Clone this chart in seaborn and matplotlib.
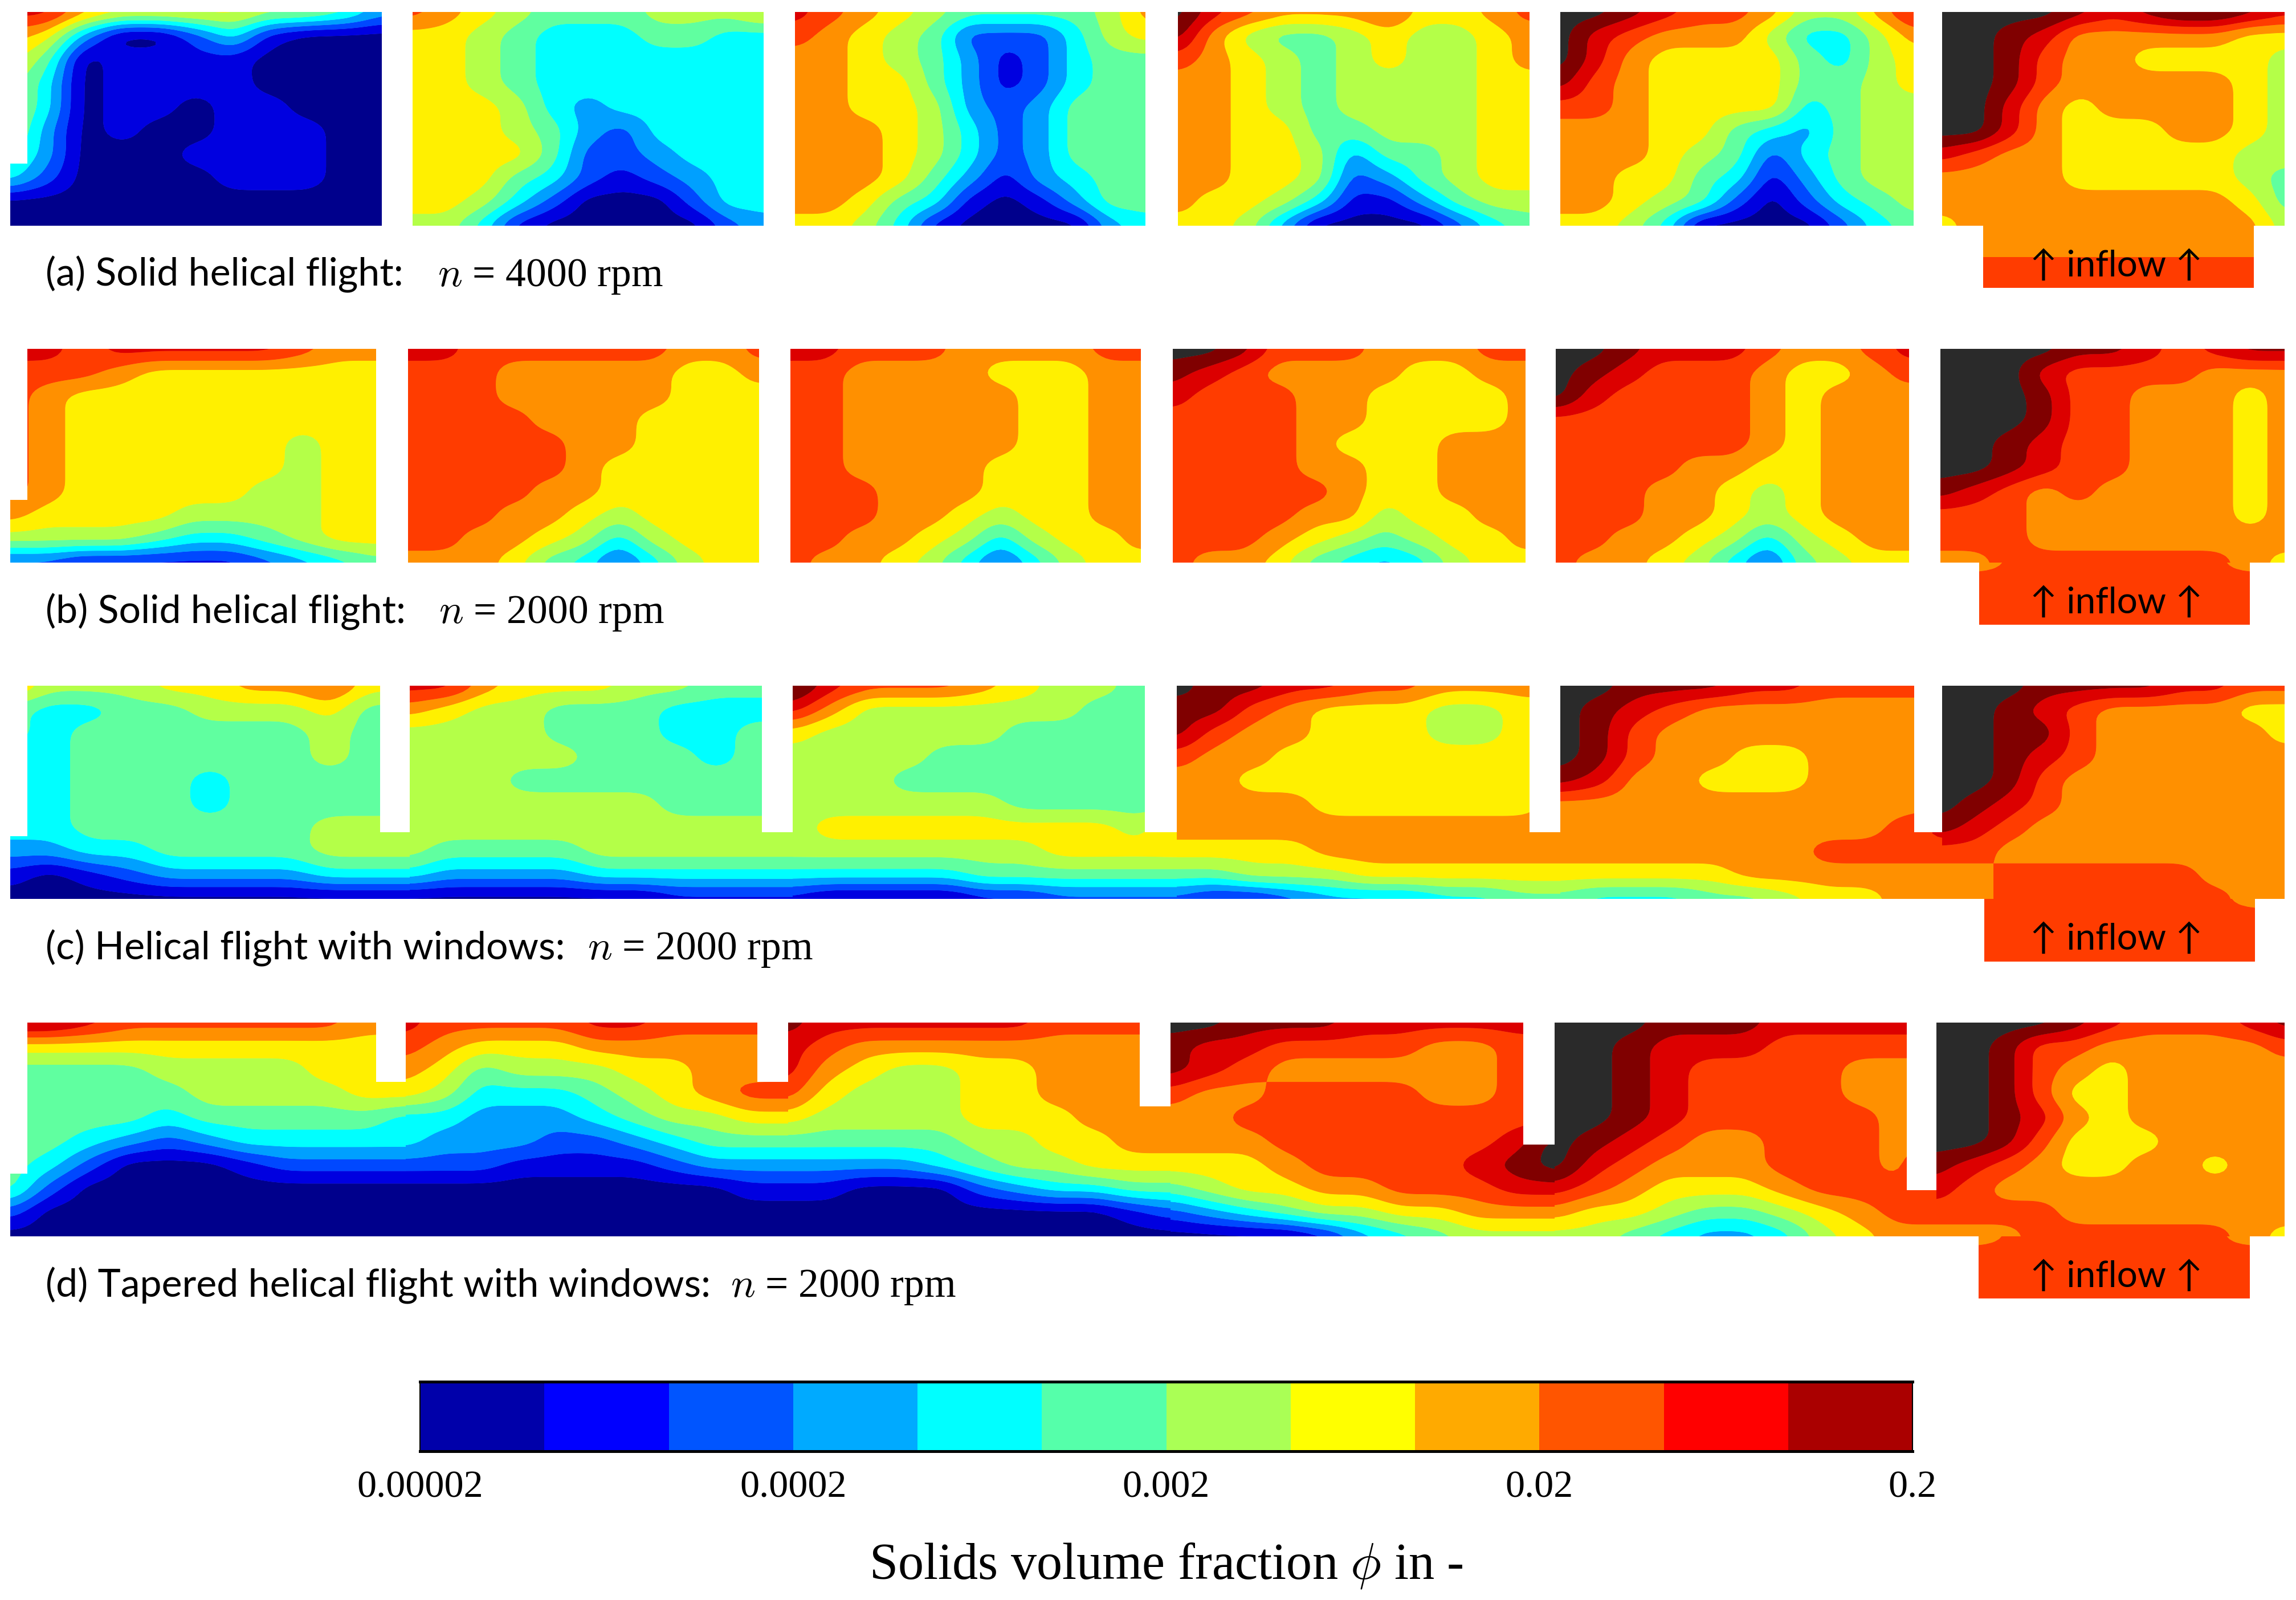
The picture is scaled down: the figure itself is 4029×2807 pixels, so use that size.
import numpy as np
import matplotlib
matplotlib.use("Agg")
import matplotlib.pyplot as plt
from matplotlib.colors import ListedColormap, BoundaryNorm
from matplotlib.patches import Rectangle
import seaborn as sns

sns.set_theme(style="white")
plt.rcParams['mathtext.fontset'] = 'cm'

# Class of log-spaced solids volume fraction at grid nodes (hex digit: 0..b bands, c = above 0.2)
A1 = ["a a 8 7 7 7 7 6 6 5 3","8 7 3 0 0 2 4 1 0 0 0","7 5 0 1 1 1 1 0 0 0 0","6 4 0 1 1 1 1 0 0 0 0","6 4 0 1 1 0 1 1 0 0 0",
      "6 3 0 1 0 0 1 1 1 0 0","5 3 0 0 0 1 1 1 1 0 0","4 2 0 0 0 0 1 1 1 0 0","0 0 0 0 0 0 0 0 0 0 0","0 0 0 0 0 0 0 0 0 0 0"]
A2 = ["9 8 7 6 5 5 5 6 6 6 7","7 7 6 5 4 4 4 5 5 4 4","7 7 6 5 4 4 4 4 4 4 4","7 7 6 5 4 4 4 4 4 4 4","7 7 7 6 4 3 4 4 4 4 4",
      "7 7 7 6 5 3 2 4 4 4 4","7 7 7 7 5 2 2 3 4 4 4","7 7 7 5 4 2 1 2 3 4 4","7 7 6 4 2 0 0 0 2 4 4","6 6 4 1 0 0 0 0 0 2 3"]
A3 = ["a 9 8 7 6 5 5 5 5 6 8","9 8 7 6 5 2 2 2 4 6 7","8 8 7 6 5 3 1 2 4 5 5","8 8 7 7 5 3 1 2 4 5 5","8 8 7 7 6 3 2 3 5 5 5",
      "8 8 8 7 6 4 2 3 5 5 5","8 8 8 7 6 4 2 3 5 5 5","8 8 8 7 5 3 1 3 4 5 5","8 8 7 5 4 1 0 1 3 5 5","7 7 6 4 1 0 0 0 0 3 4"]
A4 = ["c a 9 8 8 8 9 7 7 8 9","b 8 6 5 5 6 7 6 6 7 8","9 8 7 6 5 6 7 6 6 7 8","8 8 7 6 5 6 6 6 6 7 7","8 8 7 6 5 6 6 6 6 7 7",
      "8 8 7 7 5 5 6 6 6 7 7","8 8 7 7 6 3 5 5 6 7 7","8 8 7 7 6 2 3 5 6 7 7","8 7 7 6 4 1 1 3 5 6 6","7 7 6 3 0 0 0 0 2 4 5"]
A5 = ["c c b a 9 9 8 6 6 8 a","c a 9 8 8 8 6 4 4 6 8","c a 8 7 7 7 7 5 4 6 7","b 9 8 7 7 7 7 5 5 6 7","9 9 8 7 7 7 7 4 5 6 6",
      "8 8 8 7 7 5 4 3 5 6 6","8 8 8 7 6 5 2 4 5 6 6","8 8 7 7 5 4 1 3 5 6 6","8 8 7 6 5 2 0 2 4 5 6","7 7 6 4 0 0 0 0 2 4 5"]
A6 = ["c c c c b a b c c b a","c c b a 8 8 8 8 8 7 7","c c b 9 8 8 7 7 7 7 6","c c b 9 8 8 8 8 8 7 6","c c a 8 7 8 8 8 8 7 6",
      "c c a 8 7 7 7 8 8 7 6","a 9 8 8 7 7 7 7 7 6 6","8 8 8 8 7 7 7 7 7 6 5","8 8 8 8 8 8 8 8 8 7 5","7 8 8 8 8 8 8 8 8 8 6"]
A_IN = ["8 8 8","8 8 8","9 9 9","9 9 9"]

B1 = ["a a 9 a a a a a 9 8 8","9 9 9 8 7 7 7 7 7 7 7","9 8 7 7 7 7 7 7 7 7 7","9 8 7 7 7 7 7 7 7 7 7","9 8 7 7 7 7 7 7 6 7 7",
      "9 8 7 7 7 7 7 7 6 7 7","9 8 7 7 7 7 7 6 6 7 7","8 7 7 7 7 6 6 6 6 7 7","6 6 6 6 5 4 4 5 6 7 7","2 2 1 1 1 1 1 2 3 4 5"]
B2 = ["a a 9 9 9 9 9 9 8 8 9","9 9 9 8 8 8 8 8 7 7 8","9 9 9 8 8 8 8 8 7 7 7","9 9 9 9 8 8 8 7 7 7 7","9 9 9 9 9 8 8 7 7 7 7",
      "9 9 9 9 9 8 7 7 7 7 7","9 9 9 9 8 8 7 7 7 7 7","9 9 9 8 8 7 6 7 7 7 7","9 9 8 8 7 6 4 6 7 7 7","8 8 8 7 5 4 2 4 6 7 7"]
B3 = ["a a 9 9 9 8 8 8 8 9 9","9 9 8 8 8 8 7 7 7 8 8","9 9 8 8 8 8 8 7 7 8 8","9 9 8 8 8 8 8 7 7 8 8","9 9 8 8 8 8 8 7 7 8 8",
      "9 9 8 8 8 8 7 7 7 8 8","9 9 9 8 8 8 7 7 7 8 8","9 9 9 8 8 7 6 7 7 8 8","9 9 8 8 7 6 4 6 7 7 8","9 8 8 7 6 4 2 4 6 7 7"]
B4 = ["c c b 9 9 9 8 8 8 9 9","b a 9 8 8 8 8 7 7 8 8","a 9 9 9 8 8 7 7 7 7 8","9 9 9 9 8 8 7 7 7 7 8","9 9 9 9 8 7 7 7 8 8 8",
      "9 9 9 9 8 8 7 7 8 8 8","9 9 9 9 9 8 7 7 8 8 8","9 9 9 9 8 8 6 7 7 8 8","9 9 9 8 7 6 5 6 7 7 8","9 8 8 7 5 4 3 4 6 7 7"]
B5 = ["c c b a a a 9 8 8 9 a","c b a 9 9 9 8 7 7 8 9","c a 9 9 9 9 8 7 8 8 8","9 9 9 9 9 9 8 7 8 8 8","9 9 9 9 9 9 8 7 8 8 8",
      "9 9 9 9 8 8 7 7 8 8 8","9 9 9 8 8 7 6 7 8 8 8","9 9 9 8 8 7 6 7 8 8 8","9 9 8 8 7 6 4 6 7 8 8","9 8 8 7 6 4 2 5 6 7 7"]
B6 = ["c c c c b b a 9 a b b","c c c a 9 9 9 9 8 8 8","c c c b 9 9 8 8 8 7 8","c c c b 9 9 8 8 8 7 8","c c b a 9 9 8 8 8 7 8",
      "c c b a 9 9 8 8 8 7 8","b a 9 8 9 8 8 8 8 7 8","9 9 9 8 8 8 8 8 8 7 8","9 9 9 8 8 8 8 8 8 8 8","8 8 9 9 9 9 9 9 9 8 7"]
B_IN = ["8 9 9 9 9 8","9 9 9 9 9 9","9 9 9 9 9 9","9 9 9 9 9 9"]

C1 = ["8 6 6 6 7 7 8 8 9 7 7","5 4 4 5 5 6 6 6 7 5 5","5 4 5 5 5 5 5 5 6 5 5","4 4 5 5 5 5 5 5 6 5 5","4 4 5 5 5 4 5 5 5 5 5",
      "4 4 5 5 5 4 5 5 5 5 5","4 4 5 5 5 5 5 5 6 6 6","3 3 4 4 5 5 5 5 6 6 6","1 0 1 2 3 3 3 3 4 4 4","0 0 0 0 0 0 0 0 0 0 0"]
C2 = ["a a 8 7 7 7 6 6 5 5 5","8 7 6 6 5 5 5 4 4 4 4","6 6 6 6 5 5 5 4 4 5 5","6 6 6 6 6 5 5 5 4 5 5","6 6 6 5 5 5 5 5 5 5 5",
      "6 6 6 6 6 6 6 5 5 5 5","6 6 6 6 6 6 6 6 6 6 6","6 5 5 5 5 6 6 6 6 6 6","4 3 3 3 3 4 4 4 4 4 4","0 0 0 0 0 0 0 1 1 1 1"]
C3 = ["c a 9 9 9 8 7 6 6 5 5","a 8 6 6 6 6 6 6 5 5 5","7 6 6 6 6 6 5 5 5 5 5","6 6 6 6 5 5 5 5 5 5 5","6 6 6 5 5 5 5 5 5 5 5",
      "6 6 6 6 6 6 5 5 5 5 5","6 7 7 7 7 7 7 7 7 6 8","6 6 6 6 6 6 6 7 7 7 7","4 4 4 4 4 5 5 5 5 5 5","1 0 0 0 0 1 1 2 2 2 2"]
C4 = ["c b b a a 9 9 8 8 8 8","b b 9 8 7 7 7 6 6 7 7","b 9 8 8 7 7 7 6 6 7 7","9 8 8 7 7 7 7 7 7 7 7","8 8 7 7 7 7 7 7 7 7 7",
      "8 8 8 8 7 7 7 7 7 7 8","8 8 8 8 8 8 8 8 8 8 8","7 7 7 7 8 8 8 8 8 8 8","5 5 6 6 6 7 7 7 7 7 7","2 1 1 2 3 3 3 4 4 5 5"]
C5 = ["c c b b b a a 9 9 9 9","c b a 9 8 8 8 8 8 8 8","c b 9 8 8 8 8 8 8 8 8","c b 9 8 8 7 7 8 8 8 8","b a 8 8 7 7 7 8 8 8 8",
      "8 8 8 8 8 8 8 8 8 8 8","8 8 8 8 8 8 8 8 8 9 a","8 8 8 8 8 8 8 9 9 9 9","7 7 7 7 7 8 8 8 8 8 8","5 4 4 4 5 5 6 7 7 8 8"]
C6 = ["c c c b b b b a a 9 9","c c b a 9 8 8 8 8 7 7","c c b b 9 8 8 8 8 8 7","c c b a 9 8 8 8 8 8 8","c c b 9 8 8 8 8 8 8 8",
      "c b a 9 8 8 8 8 8 8 8","b a 9 8 8 8 8 8 8 8 8","9 9 8 8 8 8 8 8 8 8 8","8 8 9 9 9 9 9 9 8 8 8","8 8 9 9 9 9 9 9 9 8 8"]
C_IN = ["9 9 9 9 9 8","9 9 9 9 9 9","9 9 9 9 9 9","9 9 9 9 9 9"]

D1 = ["b b a 9 9 9 9 9 9 8 8","7 7 7 7 7 7 7 7 7 7 7","5 5 5 5 6 6 6 6 7 7 7","5 5 5 5 5 6 6 6 6 7 7","5 5 5 5 4 5 5 5 5 5 4",
      "5 5 4 3 2 3 4 4 4 4 4","5 4 2 0 0 0 1 2 2 2 2","5 2 0 0 0 0 0 0 0 0 0","2 0 0 0 0 0 0 0 0 0 0","0 0 0 0 0 0 0 0 0 0 0"]
D2 = ["a 9 9 9 9 a a 9 9 9 9","9 8 7 7 7 8 8 8 8 8 8","8 7 5 6 6 6 7 7 8 8 8","7 6 4 4 4 5 6 7 8 9 9","4 4 3 3 3 4 5 6 6 7 7",
      "4 3 3 3 2 2 3 4 5 5 5","2 2 2 1 1 1 1 2 3 3 3","0 0 0 0 0 0 0 0 0 1 1","0 0 0 0 0 0 0 0 0 0 0","0 0 0 0 0 0 0 0 0 0 0"]
D3 = ["b a a a a a a 9 9 9 9","a 9 8 8 8 8 8 8 8 8 8","a 8 7 6 6 7 7 8 8 8 8","9 7 6 6 6 7 7 8 8 8 8","7 6 6 6 6 7 7 7 8 8 8",
      "5 5 5 5 5 6 6 7 7 8 8","3 3 3 3 4 5 6 6 7 7 7","1 1 0 0 0 2 3 4 4 5 5","0 0 0 0 0 0 0 0 0 1 2","0 0 0 0 0 0 0 0 0 0 0"]
D4 = ["c c b b b a a a a a a","b a a 9 9 9 9 8 8 9 9","b a 9 8 8 8 8 8 8 9 9","9 8 8 9 9 9 9 8 8 9 9","8 8 9 9 9 9 9 9 9 9 9",
      "8 8 8 9 9 9 9 9 9 a c","7 7 7 8 9 9 9 9 a b c","5 6 7 7 8 8 9 9 9 a a","2 3 4 5 6 6 7 7 8 8 8","0 0 0 0 1 3 4 5 6 6 6"]
D5 = ["c c c b b b a a a a a","c c b a a a 9 9 9 9 9","c c b a 9 9 9 9 8 8 8","c c b a 9 9 9 9 8 8 8","c c b a 9 9 9 9 9 8 8",
      "c b a 9 8 8 9 9 9 8 8","c a 9 8 8 8 9 9 9 8 b","a 9 8 7 7 7 8 9 9 9 9","8 7 7 6 5 5 6 7 8 9 9","6 6 5 4 3 3 4 6 7 8 8"]
D6 = ["c c c c b a 9 9 9 a b","c c b 9 9 8 8 8 8 8 9","c c b 9 8 7 8 8 8 8 8","c c b 9 7 7 8 8 8 8 8","c c b a 8 7 8 8 8 8 8",
      "c c b 9 7 7 7 8 8 8 8","b a 9 8 7 7 8 8 7 8 8","a 9 8 8 8 8 8 8 8 8 8","9 9 9 9 8 8 8 8 8 8 8","8 8 8 9 9 9 9 9 9 8 7"]
D_IN = ["8 9 9 9 9 8","9 9 9 9 9 9","9 9 9 9 9 9","9 9 9 9 9 9"]

FIELD_COLORS = ["#00008c","#0000e0","#0048ff","#00a0ff","#00ffff","#60ffa0","#b4ff48",
                "#fff000","#ff9000","#ff3c00","#dc0000","#800000","#2a2a2a"]
BAR_COLORS = ["#0000aa","#0000ff","#0055ff","#00aaff","#00ffff","#55ffaa","#aaff55",
              "#ffff00","#ffaa00","#ff5500","#ff0000","#aa0000"]
BAR_LEVELS = list(range(12))
TICK_LABELS = ["0.00002","0.0002","0.002","0.02","0.2"]
TICK_POS = [0, 3, 6, 9, 12]
CAPTIONS = ["(a) Solid helical flight:", "(b) Solid helical flight:",
            "(c) Helical flight with windows:", "(d) Tapered helical flight with windows:"]
SPEEDS = ["$n$ = 4000 rpm", "$n$ = 2000 rpm", "$n$ = 2000 rpm", "$n$ = 2000 rpm"]

W, H = 4030, 2807
fig = plt.figure(figsize=(W/100, H/100), dpi=100, facecolor="white")
ax = fig.add_axes([0, 0, 1, 1])
ax.set_xlim(0, W); ax.set_ylim(H, 0); ax.axis("off")

cmap = ListedColormap(sns.color_palette(FIELD_COLORS, n_colors=13))
norm = BoundaryNorm(np.arange(14), 13)


def parse(rows):
    return np.array([[int(c, 16) + 0.5 for c in r.split()] for r in rows])


def refine(z, axis, factor=8, passes=2):
    """Resample the node values along one axis, rounding off the grid's corners."""
    z = np.moveaxis(z, axis, 0)
    n = z.shape[0]
    t = np.linspace(0, n - 1, (n - 1) * factor + 1)
    fine = np.array([np.interp(t, np.arange(n), col) for col in z.T]).T
    half = factor // 4
    kernel = np.ones(2 * half + 1) / (2 * half + 1)
    for _ in range(passes):
        pad = np.pad(fine, ((half, half), (0, 0)), mode="edge")
        fine = np.array([np.convolve(col, kernel, mode="valid") for col in pad.T]).T
    return np.moveaxis(fine, 0, axis)


def field(rows, x0, x1, y0, y1):
    z = refine(refine(parse(rows), 0), 1)
    xs = np.linspace(x0, x1, z.shape[1])
    ys = np.linspace(y0, y1, z.shape[0])
    for _ in range(2):
        ax.contourf(xs, ys, z, levels=np.arange(14), cmap=cmap, norm=norm, antialiased=True, zorder=2)


def blank(x0, x1, y0, y1):
    ax.add_patch(Rectangle((x0, y0), x1-x0, y1-y0, fc="white", ec="none", zorder=3))


rows_ab = [
    (21, 396, [(A1,18,670),(A2,724,1340),(A3,1395,2010),(A4,2067,2684),(A5,2738,3358),(A6,3408,4009)],
     A_IN, 3480, 3955, 505, 287),
    (612, 987, [(B1,18,660),(B2,716,1332),(B3,1387,2002),(B4,2058,2677),(B5,2730,3350),(B6,3405,4009)],
     B_IN, 3473, 3948, 1096, 877),
    (1203, 1577, [(C1,18,719),(C2,719,1391),(C3,1391,2065),(C4,2065,2738),(C5,2738,3408),(C6,3408,4009)],
     C_IN, 3482, 3957, 1687, 1467),
    (1794, 2169, [(D1,18,712),(D2,712,1383),(D3,1383,2054),(D4,2054,2728),(D5,2728,3398),(D6,3398,4009)],
     D_IN, 3472, 3948, 2278, 2059),
]
for y0, y1, panels, inflow, ix0, ix1, iy1, notch in rows_ab:
    for grid, x0, x1 in panels:
        field(grid, x0, x1, y0, y1)
    field(inflow, ix0, ix1, y1, iy1)
    blank(10, 48, y0-2, notch)

for x0, x1, bottom in [(667,719,1460),(1337,1391,1460),(2009,2065,1460),(2684,2738,1460),(3359,3408,1460)]:
    blank(x0, x1, 1200, bottom)
for x0, x1, bottom in [(660,712,1898),(1329,1383,1898),(2000,2054,1941),(2673,2728,2008),(3346,3398,2088)]:
    blank(x0, x1, 1790, bottom)

cap_font = ["Lato", "DejaVu Sans"]
cap_y = [502, 1093, 1683, 2275]
speed_x = [768, 770, 1031, 1282]
for cap, spd, y, sx in zip(CAPTIONS, SPEEDS, cap_y, speed_x):
    ax.text(80, y, cap, family=cap_font, fontsize=49, color="black", va="baseline", ha="left", zorder=5)
    ax.text(sx, y, spd, family="Liberation Serif", fontsize=51.5, color="black", va="baseline", ha="left", zorder=5)
for y in [485, 1076, 1666, 2258]:
    ax.text(3714, y, "\u2191 inflow \u2191", family=cap_font, fontsize=46, color="black",
            va="baseline", ha="center", zorder=5)

cax = fig.add_axes([737/W, 1-2546/H, (3356-737)/W, (2546-2424)/H])
sns.heatmap(np.array([BAR_LEVELS]), cmap=ListedColormap(sns.color_palette(BAR_COLORS, n_colors=12)),
            cbar=False, ax=cax, xticklabels=False, yticklabels=False, vmin=-0.5, vmax=11.5)
cax.set_xticks(TICK_POS)
cax.set_xticklabels(TICK_LABELS, rotation=0, family="Liberation Serif", fontsize=49, color="black")
cax.tick_params(axis="x", length=0, pad=24)
cax.set_xlabel("Solids volume fraction $\\phi$ in -", family="Liberation Serif", fontsize=65, labelpad=46, color="black")
for name, lw in [("top", 3.6), ("bottom", 3.6), ("left", 1.5), ("right", 1.5)]:
    cax.spines[name].set_visible(True)
    cax.spines[name].set_linewidth(lw)
    cax.spines[name].set_color("black")

fig.savefig("out.png", dpi=100, facecolor="white")
